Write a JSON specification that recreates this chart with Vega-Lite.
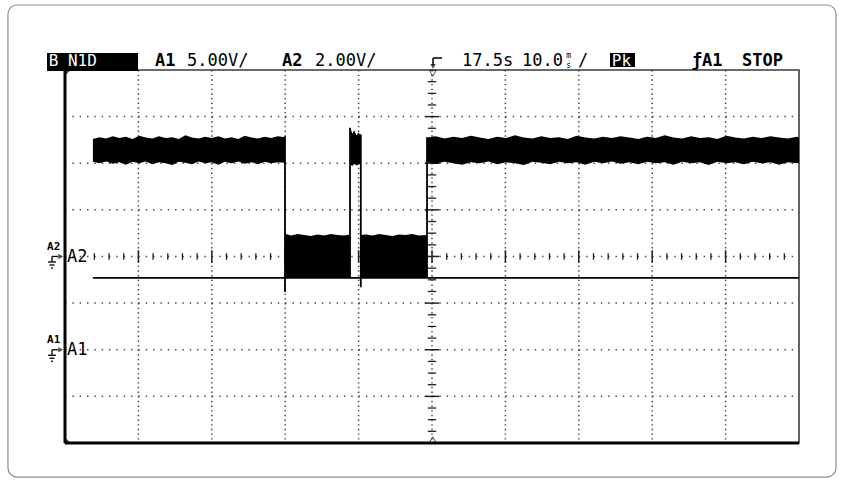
{
  "$schema": "https://vega.github.io/schema/vega-lite/v6.json",
  "width": 845,
  "height": 481,
  "autosize": {"type": "fit", "contains": "padding"},
  "padding": 0,
  "background": "white",
  "config": {"view": {"stroke": null}},
  "encoding": {
    "x": {"field": "t", "type": "quantitative", "scale": {"domain": [-58.856, 56.267], "nice": false, "zero": false}, "axis": null},
    "y": {"field": "y", "type": "quantitative", "scale": {"domain": [-4.815, 5.501], "nice": false, "zero": false}, "axis": null}
  },
  "layer": [
    {
      "data": {"values": [{"t": -57.77, "t2": 55.04, "y": 5.394, "y2": -4.73}]},
      "mark": {"type": "rect", "fillOpacity": 0, "stroke": "#8c8c8c", "strokeWidth": 1.2, "cornerRadius": 9},
      "encoding": {"x2": {"field": "t2"}, "y2": {"field": "y2"}}
    },
    {
      "data": {"values": [
        {"t": -40, "y": 4, "y2": -4}, {"t": -30, "y": 4, "y2": -4}, {"t": -20, "y": 4, "y2": -4},
        {"t": -10, "y": 4, "y2": -4}, {"t": 0.001, "y": 4, "y2": -4}, {"t": 10, "y": 4, "y2": -4},
        {"t": 20, "y": 4, "y2": -4}, {"t": 30, "y": 4, "y2": -4}, {"t": 40, "y": 4, "y2": -4}
      ]},
      "mark": {"type": "rule", "stroke": "#444", "strokeWidth": 1.5, "strokeDash": [1.4, 3.26]},
      "encoding": {"y2": {"field": "y2"}}
    },
    {
      "data": {"values": [
        {"t": -50, "t2": 50, "y": 3}, {"t": -50, "t2": 50, "y": 2}, {"t": -50, "t2": 50, "y": 1},
        {"t": -50, "t2": 50, "y": 0.001}, {"t": -50, "t2": 50, "y": -1}, {"t": -50, "t2": 50, "y": -2},
        {"t": -50, "t2": 50, "y": -3}
      ]},
      "mark": {"type": "rule", "stroke": "#444", "strokeWidth": 1.5, "strokeDash": [1.4, 5.94]},
      "encoding": {"x2": {"field": "t2"}}
    },
    {
      "data": {"values": [
        {"t": -46, "y": 0.072, "y2": -0.072}, {"t": -44, "y": 0.072, "y2": -0.072}, {"t": -42, "y": 0.072, "y2": -0.072},
        {"t": -38, "y": 0.072, "y2": -0.072}, {"t": -36, "y": 0.072, "y2": -0.072}, {"t": -34, "y": 0.072, "y2": -0.072},
        {"t": -32, "y": 0.072, "y2": -0.072}, {"t": -28, "y": 0.072, "y2": -0.072}, {"t": -26, "y": 0.072, "y2": -0.072},
        {"t": -24, "y": 0.072, "y2": -0.072}, {"t": -22, "y": 0.072, "y2": -0.072}, {"t": -18, "y": 0.072, "y2": -0.072},
        {"t": -16, "y": 0.072, "y2": -0.072}, {"t": -14, "y": 0.072, "y2": -0.072}, {"t": -12, "y": 0.072, "y2": -0.072},
        {"t": -8, "y": 0.072, "y2": -0.072}, {"t": -6, "y": 0.072, "y2": -0.072}, {"t": -4, "y": 0.072, "y2": -0.072},
        {"t": -2, "y": 0.072, "y2": -0.072}, {"t": 2, "y": 0.072, "y2": -0.072}, {"t": 4, "y": 0.072, "y2": -0.072},
        {"t": 6, "y": 0.072, "y2": -0.072}, {"t": 8, "y": 0.072, "y2": -0.072}, {"t": 12, "y": 0.072, "y2": -0.072},
        {"t": 14, "y": 0.072, "y2": -0.072}, {"t": 16, "y": 0.072, "y2": -0.072}, {"t": 18, "y": 0.072, "y2": -0.072},
        {"t": 22, "y": 0.072, "y2": -0.072}, {"t": 24, "y": 0.072, "y2": -0.072}, {"t": 26, "y": 0.072, "y2": -0.072},
        {"t": 28, "y": 0.072, "y2": -0.072}, {"t": 32, "y": 0.072, "y2": -0.072}, {"t": 34, "y": 0.072, "y2": -0.072},
        {"t": 36, "y": 0.072, "y2": -0.072}, {"t": 38, "y": 0.072, "y2": -0.072}, {"t": 42, "y": 0.072, "y2": -0.072},
        {"t": 44, "y": 0.072, "y2": -0.072}, {"t": 46, "y": 0.072, "y2": -0.072}, {"t": 48, "y": 0.072, "y2": -0.072}
      ]},
      "mark": {"type": "rule", "stroke": "#222", "strokeWidth": 1.3},
      "encoding": {"y2": {"field": "y2"}}
    },
    {
      "data": {"values": [
        {"t": -40, "y": 0.135, "y2": -0.135}, {"t": -30, "y": 0.135, "y2": -0.135}, {"t": -20, "y": 0.135, "y2": -0.135},
        {"t": -10, "y": 0.135, "y2": -0.135}, {"t": 0.001, "y": 0.135, "y2": -0.135}, {"t": 10, "y": 0.135, "y2": -0.135},
        {"t": 20, "y": 0.135, "y2": -0.135}, {"t": 30, "y": 0.135, "y2": -0.135}, {"t": 40, "y": 0.135, "y2": -0.135}
      ]},
      "mark": {"type": "rule", "stroke": "#222", "strokeWidth": 1.5},
      "encoding": {"y2": {"field": "y2"}}
    },
    {
      "data": {"values": [
        {"t": -0.57, "t2": 0.57, "y": 3.75}, {"t": -0.57, "t2": 0.57, "y": 3.5}, {"t": -0.57, "t2": 0.57, "y": 3.25},
        {"t": -0.57, "t2": 0.57, "y": 2.75}, {"t": -0.57, "t2": 0.57, "y": 2.5}, {"t": -0.57, "t2": 0.57, "y": 2.25},
        {"t": -0.57, "t2": 0.57, "y": 1.75}, {"t": -0.57, "t2": 0.57, "y": 1.5}, {"t": -0.57, "t2": 0.57, "y": 1.25},
        {"t": -0.57, "t2": 0.57, "y": 0.75}, {"t": -0.57, "t2": 0.57, "y": 0.5}, {"t": -0.57, "t2": 0.57, "y": 0.25},
        {"t": -0.57, "t2": 0.57, "y": -0.25}, {"t": -0.57, "t2": 0.57, "y": -0.5}, {"t": -0.57, "t2": 0.57, "y": -0.75},
        {"t": -0.57, "t2": 0.57, "y": -1.25}, {"t": -0.57, "t2": 0.57, "y": -1.5}, {"t": -0.57, "t2": 0.57, "y": -1.75},
        {"t": -0.57, "t2": 0.57, "y": -2.25}, {"t": -0.57, "t2": 0.57, "y": -2.5}, {"t": -0.57, "t2": 0.57, "y": -2.75},
        {"t": -0.57, "t2": 0.57, "y": -3.25}, {"t": -0.57, "t2": 0.57, "y": -3.5}, {"t": -0.57, "t2": 0.57, "y": -3.75}
      ]},
      "mark": {"type": "rule", "stroke": "#222", "strokeWidth": 1.3},
      "encoding": {"x2": {"field": "t2"}}
    },
    {
      "data": {"values": [
        {"t": -0.95, "t2": 0.95, "y": 3}, {"t": -0.95, "t2": 0.95, "y": 2}, {"t": -0.95, "t2": 0.95, "y": 1},
        {"t": -0.95, "t2": 0.95, "y": 0.001}, {"t": -0.95, "t2": 0.95, "y": -1}, {"t": -0.95, "t2": 0.95, "y": -2},
        {"t": -0.95, "t2": 0.95, "y": -3}
      ]},
      "mark": {"type": "rule", "stroke": "#222", "strokeWidth": 1.5},
      "encoding": {"x2": {"field": "t2"}}
    },
    {
      "data": {"values": [{"t": -50, "t2": 50, "y": 4, "y2": -4}]},
      "mark": {"type": "rect", "fillOpacity": 0, "stroke": "#3a3a3a", "strokeWidth": 1.6},
      "encoding": {"x2": {"field": "t2"}, "y2": {"field": "y2"}}
    },
    {
      "data": {"values": [{"t": -50, "t2": -50, "y": 4, "y2": -4}, {"t": -50, "t2": 50, "y": -4, "y2": -4}]},
      "mark": {"type": "rule", "stroke": "#000", "strokeWidth": 3},
      "encoding": {"x2": {"field": "t2"}, "y2": {"field": "y2"}}
    },
    {
      "data": {"values": [
        {"s": "A", "t": -46.2, "y": 2.52, "y2": 2.03}, {"s": "A", "t": -45.3, "y": 2.56, "y2": 2.0},
        {"s": "A", "t": -44.4, "y": 2.53, "y2": 2.04}, {"s": "A", "t": -43.5, "y": 2.58, "y2": 1.99},
        {"s": "A", "t": -42.6, "y": 2.54, "y2": 2.02}, {"s": "A", "t": -41.7, "y": 2.57, "y2": 1.97},
        {"s": "A", "t": -40.8, "y": 2.52, "y2": 2.03}, {"s": "A", "t": -39.9, "y": 2.59, "y2": 2.0},
        {"s": "A", "t": -39.0, "y": 2.55, "y2": 2.04}, {"s": "A", "t": -38.1, "y": 2.53, "y2": 1.98},
        {"s": "A", "t": -37.2, "y": 2.58, "y2": 2.02}, {"s": "A", "t": -36.3, "y": 2.54, "y2": 2.0},
        {"s": "A", "t": -35.4, "y": 2.56, "y2": 1.96}, {"s": "A", "t": -34.5, "y": 2.52, "y2": 2.03},
        {"s": "A", "t": -33.6, "y": 2.6, "y2": 2.01}, {"s": "A", "t": -32.7, "y": 2.55, "y2": 1.98},
        {"s": "A", "t": -31.8, "y": 2.53, "y2": 2.04}, {"s": "A", "t": -30.9, "y": 2.57, "y2": 2.0},
        {"s": "A", "t": -30.0, "y": 2.54, "y2": 2.02}, {"s": "A", "t": -29.1, "y": 2.58, "y2": 1.97},
        {"s": "A", "t": -28.2, "y": 2.53, "y2": 2.03}, {"s": "A", "t": -27.3, "y": 2.56, "y2": 2.0},
        {"s": "A", "t": -26.4, "y": 2.52, "y2": 2.04}, {"s": "A", "t": -25.5, "y": 2.59, "y2": 1.99},
        {"s": "A", "t": -24.6, "y": 2.55, "y2": 2.02}, {"s": "A", "t": -23.7, "y": 2.53, "y2": 1.98},
        {"s": "A", "t": -22.8, "y": 2.57, "y2": 2.03}, {"s": "A", "t": -21.9, "y": 2.54, "y2": 2.0},
        {"s": "A", "t": -21.0, "y": 2.58, "y2": 2.02}, {"s": "A", "t": -20.03, "y": 2.56, "y2": 2.01},
        {"s": "B", "t": -11.1, "y": 2.75, "y2": 1.97}, {"s": "B", "t": -10.85, "y": 2.63, "y2": 1.94},
        {"s": "B", "t": -10.6, "y": 2.71, "y2": 1.99}, {"s": "B", "t": -10.3, "y": 2.6, "y2": 1.95},
        {"s": "B", "t": -10.0, "y": 2.66, "y2": 1.98}, {"s": "B", "t": -9.7, "y": 2.58, "y2": 1.99},
        {"s": "C", "t": -0.68, "y": 2.55, "y2": 2.02}, {"s": "C", "t": 0.5, "y": 2.58, "y2": 1.99},
        {"s": "C", "t": 1.7, "y": 2.53, "y2": 2.03}, {"s": "C", "t": 2.9, "y": 2.57, "y2": 2.0},
        {"s": "C", "t": 4.1, "y": 2.54, "y2": 1.97}, {"s": "C", "t": 5.3, "y": 2.59, "y2": 2.02},
        {"s": "C", "t": 6.5, "y": 2.55, "y2": 2.0}, {"s": "C", "t": 7.7, "y": 2.52, "y2": 2.04},
        {"s": "C", "t": 8.9, "y": 2.57, "y2": 1.98}, {"s": "C", "t": 10.1, "y": 2.54, "y2": 2.02},
        {"s": "C", "t": 11.3, "y": 2.6, "y2": 2.0}, {"s": "C", "t": 12.5, "y": 2.55, "y2": 1.96},
        {"s": "C", "t": 13.7, "y": 2.53, "y2": 2.03}, {"s": "C", "t": 14.9, "y": 2.58, "y2": 2.01},
        {"s": "C", "t": 16.1, "y": 2.54, "y2": 1.98}, {"s": "C", "t": 17.3, "y": 2.56, "y2": 2.03},
        {"s": "C", "t": 18.5, "y": 2.52, "y2": 2.0}, {"s": "C", "t": 19.7, "y": 2.59, "y2": 2.02},
        {"s": "C", "t": 20.9, "y": 2.55, "y2": 1.97}, {"s": "C", "t": 22.1, "y": 2.53, "y2": 2.03},
        {"s": "C", "t": 23.3, "y": 2.57, "y2": 2.0}, {"s": "C", "t": 24.5, "y": 2.54, "y2": 2.04},
        {"s": "C", "t": 25.7, "y": 2.58, "y2": 1.99}, {"s": "C", "t": 26.9, "y": 2.55, "y2": 2.02},
        {"s": "C", "t": 28.1, "y": 2.52, "y2": 1.98}, {"s": "C", "t": 29.3, "y": 2.57, "y2": 2.03},
        {"s": "C", "t": 30.5, "y": 2.54, "y2": 2.0}, {"s": "C", "t": 31.7, "y": 2.6, "y2": 2.02},
        {"s": "C", "t": 32.9, "y": 2.55, "y2": 1.97}, {"s": "C", "t": 34.1, "y": 2.53, "y2": 2.03},
        {"s": "C", "t": 35.3, "y": 2.58, "y2": 2.0}, {"s": "C", "t": 36.5, "y": 2.54, "y2": 2.02},
        {"s": "C", "t": 37.7, "y": 2.56, "y2": 1.96}, {"s": "C", "t": 38.9, "y": 2.52, "y2": 2.03},
        {"s": "C", "t": 40.1, "y": 2.59, "y2": 2.0}, {"s": "C", "t": 41.3, "y": 2.55, "y2": 2.02},
        {"s": "C", "t": 42.5, "y": 2.53, "y2": 1.98}, {"s": "C", "t": 43.7, "y": 2.57, "y2": 2.03},
        {"s": "C", "t": 44.9, "y": 2.54, "y2": 2.0}, {"s": "C", "t": 46.1, "y": 2.58, "y2": 2.02},
        {"s": "C", "t": 47.3, "y": 2.55, "y2": 1.97}, {"s": "C", "t": 48.5, "y": 2.53, "y2": 2.02},
        {"s": "C", "t": 49.7, "y": 2.57, "y2": 2.0}, {"s": "C", "t": 50.0, "y": 2.55, "y2": 2.01},
        {"s": "D", "t": -20.03, "y": 0.49, "y2": -0.46}, {"s": "D", "t": -19.2, "y": 0.45, "y2": -0.46},
        {"s": "D", "t": -18.3, "y": 0.48, "y2": -0.46}, {"s": "D", "t": -17.4, "y": 0.46, "y2": -0.46},
        {"s": "D", "t": -16.5, "y": 0.44, "y2": -0.46}, {"s": "D", "t": -15.6, "y": 0.47, "y2": -0.46},
        {"s": "D", "t": -14.7, "y": 0.45, "y2": -0.46}, {"s": "D", "t": -13.8, "y": 0.48, "y2": -0.46},
        {"s": "D", "t": -12.9, "y": 0.46, "y2": -0.46}, {"s": "D", "t": -12.0, "y": 0.45, "y2": -0.46},
        {"s": "D", "t": -11.17, "y": 0.47, "y2": -0.46},
        {"s": "E", "t": -9.81, "y": 0.46, "y2": -0.46}, {"s": "E", "t": -9.0, "y": 0.47, "y2": -0.46},
        {"s": "E", "t": -8.1, "y": 0.45, "y2": -0.46}, {"s": "E", "t": -7.2, "y": 0.48, "y2": -0.46},
        {"s": "E", "t": -6.3, "y": 0.46, "y2": -0.46}, {"s": "E", "t": -5.4, "y": 0.44, "y2": -0.46},
        {"s": "E", "t": -4.5, "y": 0.47, "y2": -0.46}, {"s": "E", "t": -3.6, "y": 0.46, "y2": -0.46},
        {"s": "E", "t": -2.7, "y": 0.48, "y2": -0.46}, {"s": "E", "t": -1.8, "y": 0.45, "y2": -0.46},
        {"s": "E", "t": -0.68, "y": 0.46, "y2": -0.46}
      ]},
      "mark": {"type": "area", "color": "#000", "interpolate": "linear"},
      "encoding": {"y2": {"field": "y2"}, "detail": {"field": "s"}}
    },
    {
      "data": {"values": [
        {"t": -46.2, "t2": 50, "y": -0.46, "y2": -0.46},
        {"t": -20.03, "t2": -20.03, "y": 2.58, "y2": -0.76},
        {"t": -11.17, "t2": -11.17, "y": 2.76, "y2": -0.46},
        {"t": -9.7, "t2": -9.7, "y": 2.62, "y2": -0.66},
        {"t": -0.68, "t2": -0.68, "y": 2.56, "y2": -0.46}
      ]},
      "mark": {"type": "rule", "stroke": "#000", "strokeWidth": 1.8},
      "encoding": {"x2": {"field": "t2"}, "y2": {"field": "y2"}}
    },
    {
      "data": {"values": [{"t": -52.45, "t2": -40.05, "y": 4.365, "y2": 3.98}, {"t": 24.25, "t2": 27.66, "y": 4.365, "y2": 4.064}]},
      "mark": {"type": "rect", "color": "#000"},
      "encoding": {"x2": {"field": "t2"}, "y2": {"field": "y2"}}
    },
    {
      "data": {"values": [{"t": -52.2, "y": 4.19, "label": "B"}, {"t": -49.6, "y": 4.19, "label": "N1D"}, {"t": 24.5, "y": 4.2, "label": "Pk"}]},
      "mark": {"type": "text", "align": "left", "baseline": "middle", "font": "DejaVu Sans Mono", "fontSize": 16, "color": "#fff"},
      "encoding": {"text": {"field": "label"}}
    },
    {
      "data": {"values": [
        {"t": -33.38, "y": 4.19, "label": "5.00V/"},
        {"t": -15.94, "y": 4.19, "label": "2.00V/"},
        {"t": 4.09, "y": 4.19, "label": "17.5s"},
        {"t": 12.26, "y": 4.19, "label": "10.0"},
        {"t": 19.9, "y": 4.19, "label": "/"}
      ]},
      "mark": {"type": "text", "align": "left", "baseline": "middle", "font": "DejaVu Sans Mono", "fontSize": 17, "color": "#000"},
      "encoding": {"text": {"field": "label"}}
    },
    {
      "data": {"values": [{"t": 18.3, "y": 4.29, "label": "m"}, {"t": 18.3, "y": 4.075, "label": "s"}]},
      "mark": {"type": "text", "align": "left", "baseline": "middle", "font": "DejaVu Sans Mono", "fontSize": 8, "color": "#000"},
      "encoding": {"text": {"field": "label"}}
    },
    {
      "data": {"values": [
        {"t": -37.74, "y": 4.19, "label": "A1"},
        {"t": -20.44, "y": 4.19, "label": "A2"},
        {"t": 35.4, "y": 4.19, "label": "ƒA1"},
        {"t": 42.23, "y": 4.19, "label": "STOP"}
      ]},
      "mark": {"type": "text", "align": "left", "baseline": "middle", "font": "DejaVu Sans Mono", "fontSize": 17, "fontWeight": "bold", "color": "#000"},
      "encoding": {"text": {"field": "label"}}
    },
    {
      "data": {"values": [
        {"t": 0.14, "t2": 0.14, "y": 4.257, "y2": 4.1},
        {"t": 0.14, "t2": 1.36, "y": 4.257, "y2": 4.257}
      ]},
      "mark": {"type": "rule", "stroke": "#000", "strokeWidth": 1.5},
      "encoding": {"x2": {"field": "t2"}, "y2": {"field": "y2"}}
    },
    {
      "data": {"values": [{"t": 0.14, "y": 4.08}]},
      "mark": {"type": "point", "shape": "triangle-down", "filled": true, "color": "#000", "size": 30},
      "encoding": {}
    },
    {
      "data": {"values": [{"t": 0.1, "y": 3.93}]},
      "mark": {"type": "point", "shape": "triangle-down", "filled": false, "stroke": "#000", "strokeWidth": 1, "size": 45},
      "encoding": {}
    },
    {
      "data": {"values": [{"t": 0.1, "y": -3.93}]},
      "mark": {"type": "point", "shape": "triangle-up", "filled": false, "stroke": "#000", "strokeWidth": 1, "size": 45},
      "encoding": {}
    },
    {
      "data": {"values": [{"t": -49.6, "y": 3.94}]},
      "mark": {"type": "point", "shape": "M-1,-1L1,-1L-1,1Z", "filled": true, "color": "#000", "size": 30},
      "encoding": {}
    },
    {
      "data": {"values": [{"t": -49.6, "y": -3.94}]},
      "mark": {"type": "point", "shape": "M-1,1L1,1L-1,-1Z", "filled": true, "color": "#000", "size": 30},
      "encoding": {}
    },
    {
      "data": {"values": [{"t": -52.45, "y": 0.21, "label": "A2"}, {"t": -52.45, "y": -1.79, "label": "A1"}]},
      "mark": {"type": "text", "align": "left", "baseline": "middle", "font": "DejaVu Sans Mono", "fontSize": 11, "fontWeight": "bold", "color": "#000"},
      "encoding": {"text": {"field": "label"}}
    },
    {
      "data": {"values": [{"t": -49.73, "y": -0.01, "label": "A2"}, {"t": -49.73, "y": -2.01, "label": "A1"}]},
      "mark": {"type": "text", "align": "left", "baseline": "middle", "font": "DejaVu Sans Mono", "fontSize": 17, "color": "#000"},
      "encoding": {"text": {"field": "label"}}
    },
    {
      "data": {"values": [
        {"t": -51.77, "t2": -50.95, "y": 0.001, "y2": 0.001},
        {"t": -51.77, "t2": -51.77, "y": 0.001, "y2": -0.118},
        {"t": -52.32, "t2": -51.23, "y": -0.118, "y2": -0.118},
        {"t": -52.11, "t2": -51.43, "y": -0.182, "y2": -0.182},
        {"t": -51.91, "t2": -51.63, "y": -0.247, "y2": -0.247},
        {"t": -51.77, "t2": -50.95, "y": -2, "y2": -2},
        {"t": -51.77, "t2": -51.77, "y": -2, "y2": -2.118},
        {"t": -52.32, "t2": -51.23, "y": -2.118, "y2": -2.118},
        {"t": -52.11, "t2": -51.43, "y": -2.182, "y2": -2.182},
        {"t": -51.91, "t2": -51.63, "y": -2.247, "y2": -2.247}
      ]},
      "mark": {"type": "rule", "stroke": "#000", "strokeWidth": 1.3},
      "encoding": {"x2": {"field": "t2"}, "y2": {"field": "y2"}}
    },
    {
      "data": {"values": [{"t": -50.6, "y": 0.001}, {"t": -50.6, "y": -2}]},
      "mark": {"type": "point", "shape": "triangle-right", "filled": true, "color": "#000", "size": 30},
      "encoding": {}
    }
  ]
}
